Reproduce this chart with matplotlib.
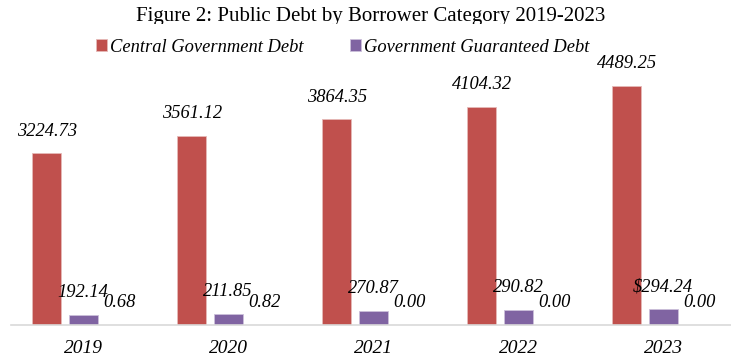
import matplotlib.pyplot as plt
import numpy as np

years = ['2019', '2020', '2021', '2022', '2023']
central_debt = [3224.73, 3561.12, 3864.35, 4104.32, 4489.25]
guaranteed_debt = [192.14, 211.85, 270.87, 290.82, 294.24]
other_debt = [0.68, 0.82, 0.00, 0.00, 0.00]
guaranteed_labels = ['192.14', '211.85', '270.87', '290.82', r'\$294.24']

plt.rcParams['font.family'] = ['Liberation Serif', 'DejaVu Serif']

fig = plt.figure(figsize=(7.31, 3.6), dpi=100)
ax = fig.add_axes([10.5 / 731, 35 / 360, 725 / 731, 266 / 360])

x = np.arange(len(years))
w = 0.2
step = 0.25
b1 = ax.bar(x - step, central_debt, w, color='#C0504D', edgecolor='#E6B9B8', linewidth=0.6,
            label='Central Government Debt')
b2 = ax.bar(x, guaranteed_debt, w, color='#8064A2', edgecolor='#CCC0DA', linewidth=0.6,
            label='Government Guaranteed Debt')
b3 = ax.bar(x + step, other_debt, w, color='#9BBB59', linewidth=0)

# value labels above every bar, kept on top of the legend box
lab_kw = dict(fontsize=13.3, style='italic', color='black', ha='center', va='center', zorder=6)
for xi, v in zip(x - step, central_debt):
    ax.annotate(f'{v:.2f}', (xi, v), xytext=(0, 16), textcoords='offset points', **lab_kw)
for xi, v, t in zip(x, guaranteed_debt, guaranteed_labels):
    ax.annotate(t, (xi, v), xytext=(0, 16), textcoords='offset points', **lab_kw)
for xi, v in zip(x + step, other_debt):
    ax.annotate(f'{v:.2f}', (xi, v), xytext=(0, 16), textcoords='offset points', **lab_kw)

ax.set_xlim(-0.5, len(years) - 0.5)
ax.set_ylim(0, 5000)
ax.set_xticks(x)
ax.set_xticklabels(years, fontsize=14, style='italic')
ax.tick_params(axis='x', length=0, pad=11)
ax.set_yticks([])
for s in ['top', 'right', 'left']:
    ax.spines[s].set_visible(False)
ax.spines['bottom'].set_color('#D9D9D9')
ax.spines['bottom'].set_linewidth(1.2)

ax.text(371 / 731, 1 - 16 / 360, 'Figure 2: Public Debt by Borrower Category 2019-2023',
        fontsize=15, ha='center', va='center', transform=fig.transFigure, zorder=3,
        clip_on=False)

# opaque legend box sits over the lower edge of the title
leg = ax.legend(handles=[b1, b2], loc='center', bbox_to_anchor=(342.5 / 731, 1 - 47 / 360),
                bbox_transform=fig.transFigure,
                ncol=2, frameon=True, fancybox=False, facecolor='white', edgecolor='none',
                framealpha=1, prop={'size': 13.3, 'style': 'italic'}, handlelength=0.6,
                handleheight=0.6, handletextpad=0.15, columnspacing=2.55, borderpad=0.8)
leg.set_zorder(5)

plt.savefig('out.png', dpi=100)
plt.close()
